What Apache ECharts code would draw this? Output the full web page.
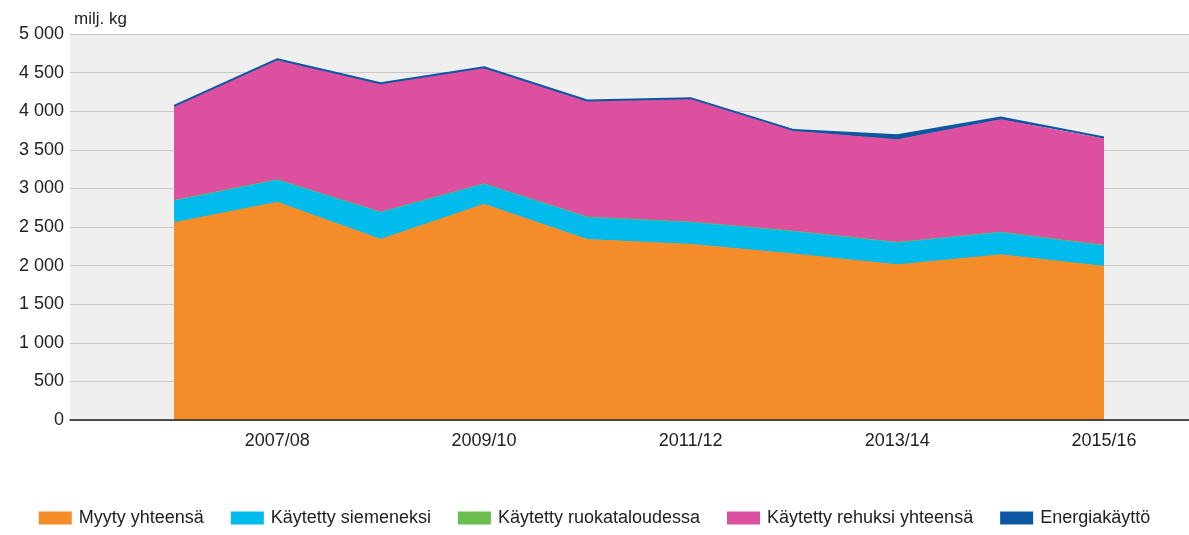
<!DOCTYPE html>
<html>
<head>
<meta charset="utf-8">
<script src="https://cdn.jsdelivr.net/npm/echarts@6/dist/echarts.min.js"></script>
<style>
  html, body { margin: 0; padding: 0; background: #fff; }
  #chart { width: 1189px; height: 535px; }
</style>
</head>
<body>
<div id="chart"></div>
<script>
const years = ['2006/07', '2007/08', '2008/09', '2009/10', '2010/11', '2011/12', '2012/13', '2013/14', '2014/15', '2015/16']

const myyty = [2556, 2820, 2340, 2794, 2338, 2275, 2150, 2010, 2140, 1990]
const siemen = [285, 289, 350, 263, 287, 286, 293, 288, 290, 269]
const ruoka = [4, 4, 4, 4, 4, 4, 4, 4, 4, 4]
const rehu = [1222, 1559, 1667, 1506, 1506, 1601, 1293, 1328, 1456, 1377]
const energia = [2, 2, 2, 2, 3, 3, 15, 60, 30, 20]

const fontFamily = '"Liberation Sans", Arial, sans-serif'
const textColor = '#222'

function fmtThousands(v) {
  return String(v).replace(/\B(?=(\d{3})+(?!\d))/g, ' ')
}

// data lives in grid 1 (first/last year inset from the plot edges)
function areaSeries(name, values, color, lineWidth) {
  return {
    name,
    type: 'line',
    stack: 'total',
    xAxisIndex: 1,
    yAxisIndex: 1,
    showSymbol: false,
    symbol: 'none',
    data: values,
    lineStyle: { color, width: lineWidth },
    areaStyle: { color, opacity: 1 },
    itemStyle: { color },
  }
}

const chart = echarts.init(document.getElementById('chart'))
chart.setOption({
  animation: false,
  grid: [
    { left: 70, right: 0, top: 34, bottom: 115, show: true, backgroundColor: '#efefef', borderWidth: 0 },
    { left: 174, right: 85, top: 34, bottom: 115 },
  ],
  legend: {
    bottom: 3,
    left: 'center',
    itemWidth: 33,
    itemHeight: 13,
    itemGap: 27,
    icon: 'rect',
    textStyle: { color: textColor, fontSize: 18, fontFamily, padding: [0, 0, 0, 2] },
  },
  xAxis: [
    {
      gridIndex: 0,
      type: 'value',
      min: 0,
      max: 1,
      z: 10,
      splitLine: { show: false },
      axisTick: { show: false },
      axisLabel: { show: false },
      axisLine: { show: true, lineStyle: { color: '#222', width: 1.5 } },
    },
    {
      gridIndex: 1,
      type: 'category',
      boundaryGap: false,
      data: years,
      axisLine: { show: false },
      axisTick: { show: false },
      splitLine: { show: false },
      axisLabel: {
        interval: (i) => i % 2 === 1,
        color: textColor,
        fontSize: 18,
        fontFamily,
        margin: 12,
      },
    },
  ],
  yAxis: [
    {
      gridIndex: 0,
      type: 'value',
      min: 0,
      max: 5000,
      interval: 500,
      name: 'milj. kg',
      nameLocation: 'end',
      nameGap: 6,
      nameTextStyle: { color: textColor, fontSize: 17, fontFamily, align: 'left', padding: [0, 0, 0, 4] },
      axisLine: { show: false },
      axisTick: { show: false },
      splitLine: { show: true, lineStyle: { color: '#c8c8c8', width: 1.2 } },
      axisLabel: {
        color: textColor,
        fontSize: 18,
        fontFamily,
        margin: 6,
        formatter: fmtThousands,
      },
    },
    {
      gridIndex: 1,
      type: 'value',
      min: 0,
      max: 5000,
      show: false,
      splitLine: { show: false },
    },
  ],
  series: [
    areaSeries('Myyty yhteensä', myyty, '#f48c2a', 1),
    areaSeries('Käytetty siemeneksi', siemen, '#00bbec', 1),
    areaSeries('Käytetty ruokataloudessa', ruoka, '#6cbe4c', 0.6),
    areaSeries('Käytetty rehuksi yhteensä', rehu, '#dd509f', 1),
    areaSeries('Energiakäyttö', energia, '#0a58a2', 2),
  ],
})
</script>
</body>
</html>
